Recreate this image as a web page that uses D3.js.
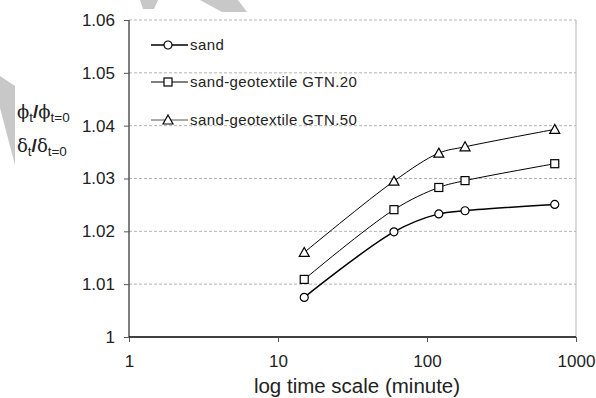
<!DOCTYPE html>
<html>
<head>
<meta charset="utf-8">
<script src="https://cdn.jsdelivr.net/npm/d3@7"></script>
<style>
  body { margin: 0; background: #fff; }
  svg { display: block; font-family: "Liberation Sans", Arial, sans-serif; }
</style>
</head>
<body>
<div class="core_div"></div>
<script>
// data
var times = [15, 60, 120, 180, 720];
var sand = [1.0075, 1.0199, 1.0233, 1.0239, 1.0251];
var gtn20 = [1.0109, 1.0241, 1.0283, 1.0296, 1.0328];
var gtn50 = [1.0160, 1.0295, 1.0348, 1.0360, 1.0393];
var seriesNames = ["sand", "sand-geotextile GTN.20", "sand-geotextile GTN.50"];
var yTicks = [1, 1.01, 1.02, 1.03, 1.04, 1.05, 1.06];
var xTicks = [1, 10, 100, 1000];

var W = 596, H = 398;
var margin = {top: 20, right: 20, bottom: 61, left: 129},
    width = W - margin.left - margin.right,
    height = H - margin.top - margin.bottom;

var svg = d3.select(".core_div").append("svg")
    .attr("width", W)
    .attr("height", H);

// faint watermark shapes
svg.append("path")
    .attr("d", "M0,76 L15,86 L15,165 L0,108 Z")
    .style("fill", "#c8c8c8");
svg.append("path")
    .attr("d", "M140,0 L158,0 L154,9 L143,9 Z")
    .style("fill", "#c8c8c8");
svg.append("path")
    .attr("d", "M200,0 L238,0 L247,12 L222,12 Z")
    .style("fill", "#c8c8c8");

var g = svg.append("g")
    .attr("transform", "translate(" + margin.left + "," + margin.top + ")");

var x = d3.scaleLog().domain([1, 1000]).range([0, width]);
var y = d3.scaleLinear().domain([1, 1.06]).range([height, 0]);

// gridlines
g.selectAll("line.grid")
    .data(yTicks.slice(1))
  .enter().append("line")
    .attr("class", "grid")
    .attr("x1", 0).attr("x2", width)
    .attr("y1", function(d) { return y(d); })
    .attr("y2", function(d) { return y(d); })
    .style("stroke", "#b4b4b4")
    .style("stroke-dasharray", "3,2")
    .style("stroke-width", 1);

// right border
g.append("line")
    .attr("x1", width).attr("x2", width)
    .attr("y1", 0).attr("y2", height)
    .style("stroke", "#b4b4b4");

// y axis
var yAxis = g.append("g")
    .call(d3.axisLeft(y).tickValues(yTicks).tickSize(5).tickPadding(9)
      .tickFormat(function(d) { return d === 1 ? "1" : d3.format(".2f")(d); }));
yAxis.select(".domain").style("stroke", "#555").style("stroke-width", 1.5).attr("d", "M0,0V" + height);
yAxis.selectAll(".tick line").style("stroke", "#555");
yAxis.selectAll("text").style("font-size", "17px").style("fill", "#222")
    .style("font-family", "'Liberation Sans', Arial, sans-serif");

// x axis
var xAxis = g.append("g")
    .attr("transform", "translate(0," + height + ")")
    .call(d3.axisBottom(x).tickValues(xTicks).tickSize(5).tickPadding(13)
      .tickFormat(d3.format("d")));
xAxis.select(".domain").style("stroke", "#000").style("stroke-width", 1.5).attr("d", "M0,0H" + width);
xAxis.selectAll(".tick line").style("stroke", "#555");
xAxis.selectAll("text").style("font-size", "17px").style("fill", "#222")
    .style("font-family", "'Liberation Sans', Arial, sans-serif");

// axis title
svg.append("text")
    .attr("x", 357)
    .attr("y", 393)
    .attr("text-anchor", "middle")
    .style("font-size", "20.5px")
    .style("fill", "#222")
    .text("log time scale (minute)");

// y label (greek letters in a serif face, like the Symbol font)
function ratioLabel(sym, yPos) {
  var t = svg.append("text")
      .attr("x", 17)
      .attr("y", yPos)
      .style("font-size", "19px")
      .style("fill", "#222");
  t.append("tspan").style("font-family", "'DejaVu Serif', serif").style("font-size", "18px").text(sym);
  t.append("tspan").attr("dy", 4).style("font-size", "13.5px").text("t");
  t.append("tspan").attr("dy", -4).style("font-weight", "bold").text("/");
  t.append("tspan").style("font-family", "'DejaVu Serif', serif").style("font-size", "18px").text(sym);
  t.append("tspan").attr("dy", 4).style("font-size", "13.5px").text("t=0");
}
ratioLabel("\u03d5", 118);
ratioLabel("\u03b4", 152);

var allSeries = [sand, gtn20, gtn50];
var widths = [1.5, 1, 1];
var line = d3.line()
    .x(function(d, i) { return x(times[i]); })
    .y(function(d) { return y(d); })
    .curve(d3.curveCatmullRom.alpha(0.5));

function marker(sel, k) {
  if (k === 0) {
    sel.append("circle").attr("r", 4);
  } else if (k === 1) {
    sel.append("rect").attr("x", -4).attr("y", -4).attr("width", 8).attr("height", 8);
  } else {
    sel.append("path").attr("d", "M0,-5L5,4L-5,4Z");
  }
  sel.selectAll("*").style("fill", "#fff").style("stroke", "#000").style("stroke-width", 1.2);
}

allSeries.forEach(function(vals, k) {
  g.append("path")
      .datum(vals)
      .attr("d", line)
      .style("fill", "none")
      .style("stroke", "#000")
      .style("stroke-width", widths[k]);
  g.selectAll("g.pt" + k)
      .data(vals)
    .enter().append("g")
      .attr("class", "pt" + k)
      .attr("transform", function(d, i) { return "translate(" + x(times[i]) + "," + y(d) + ")"; })
      .each(function() { marker(d3.select(this), k); });
});

// legend
var legY = [45, 82, 120];
seriesNames.forEach(function(name, k) {
  var lg = svg.append("g").attr("transform", "translate(151," + legY[k] + ")");
  lg.append("line").attr("x1", 0).attr("x2", 37)
      .style("stroke", k === 2 ? "#555" : "#000").style("stroke-width", widths[k]);
  var m = lg.append("g").attr("transform", "translate(17,0)");
  marker(m, k);
  lg.append("text").attr("x", 39).attr("y", 5)
      .style("font-size", "15px")
      .style("letter-spacing", "0.4px")
      .style("fill", "#222")
      .text(name);
});
</script>
</body>
</html>
